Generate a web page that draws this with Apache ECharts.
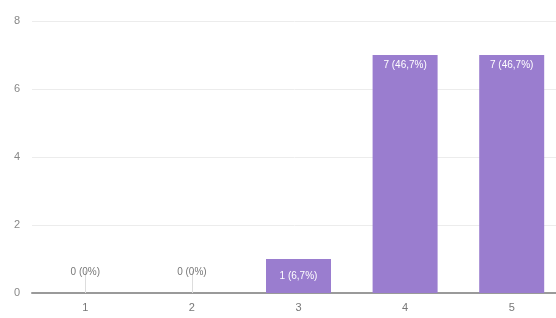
<!DOCTYPE html>
<html>
<head>
<meta charset="utf-8">
<script src="https://cdn.jsdelivr.net/npm/echarts@6/dist/echarts.min.js"></script>
<style>
  html, body { margin: 0; padding: 0; background: #fff; }
</style>
</head>
<body>
<div id="echarts" style="width: 556px; height: 318px"></div>
<script>
const categories = ['1', '2', '3', '4', '5'];
const counts = [0, 0, 1, 7, 7];
const percents = ['0%', '0%', '6,7%', '46,7%', '46,7%'];
const yTicks = [0, 2, 4, 6, 8];

let myChart = echarts.init(document.getElementById('echarts'));

let seriesData = counts.map((v, i) => {
  let label;
  if (v === 0) {
    label = { show: true, position: 'top', distance: 16, color: '#777', fontSize: 10 };
  } else if (v < 2) {
    label = { show: true, position: 'inside', color: '#fff', fontSize: 10 };
  } else {
    label = { show: true, position: 'insideTop', distance: 5, color: '#fff', fontSize: 10 };
  }
  return { value: v, label: label };
});

myChart.setOption({
  animation: false,
  grid: { left: 32, width: 533, top: 21, bottom: 25, containLabel: false, outerBoundsMode: 'none' },
  xAxis: {
    type: 'category',
    data: categories,
    axisLine: { lineStyle: { color: '#9a9a9a', width: 2 } },
    axisTick: {
      show: true,
      alignWithLabel: true,
      inside: true,
      length: 22,
      interval: function (index) { return counts[index] === 0; },
      lineStyle: { color: '#ddd' }
    },
    axisLabel: { color: '#777', fontSize: 11, margin: 9 }
  },
  yAxis: {
    type: 'value',
    min: yTicks[0],
    max: yTicks[yTicks.length - 1],
    interval: 2,
    axisLine: { show: false },
    axisTick: { show: false },
    axisLabel: { color: '#888', fontSize: 11, margin: 12 },
    splitLine: { lineStyle: { color: '#ececec' } }
  },
  series: [
    {
      type: 'bar',
      barWidth: 65,
      itemStyle: { color: '#9a7dcf' },
      label: {
        formatter: function (p) {
          return p.value + ' (' + percents[p.dataIndex] + ')';
        }
      },
      data: seriesData
    }
  ]
});
</script>
</body>
</html>
